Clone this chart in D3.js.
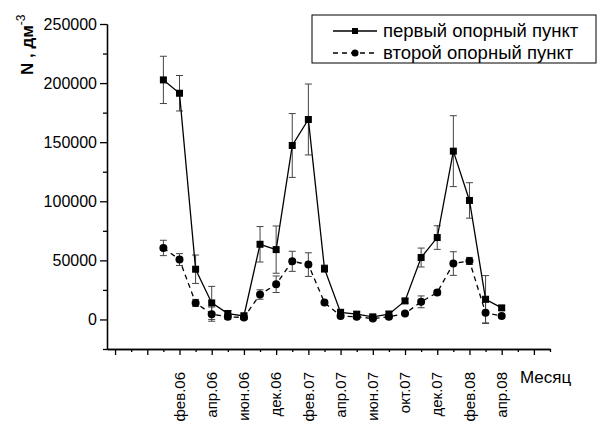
<!DOCTYPE html>
<html>
<head>
<meta charset="utf-8">
<script src="https://cdn.jsdelivr.net/npm/d3@7"></script>
<style>
  body { margin: 0; background: #fff; }
  text { font-family: "Liberation Sans", Arial, sans-serif; fill: #000; }
</style>
</head>
<body>
<script>
// month positions along the x axis (tick index)
var xIdx = [3, 4, 5, 6, 7, 8, 9, 10, 11, 12, 13, 14, 15, 16, 17, 18, 19, 20, 21, 22, 23, 24]

// первый опорный пункт
var first = [202700, 191400, 42500, 14000, 5000, 3000, 63600, 59100, 147200, 169200, 43000,
             6000, 4500, 2200, 4500, 15700, 52400, 69300, 142400, 100700, 17100, 9800]
var firstErr = [20000, 15000, 12000, 14000, 2500, 2500, 15000, 20000, 27000, 30000, 3000,
                2500, 2000, 2000, 2500, 2000, 8000, 10000, 30000, 15000, 20000, 2000]

// второй опорный пункт
var second = [60500, 50700, 14000, 4500, 2200, 1700, 21100, 29800, 49200, 46400, 14300,
              3000, 2200, 800, 2200, 5000, 14900, 22800, 47300, 49500, 5600, 3000]
var secondErr = [6500, 5000, 3000, 6000, 2000, 1500, 4000, 7000, 8500, 10000, 1500,
                 1500, 1500, 1000, 1500, 1000, 5000, 2000, 10000, 3000, 9000, 1500]

// labelled ticks
var labelIdx = [4, 6, 8, 10, 12, 14, 16, 18, 20, 22, 24]
var labelText = ["фев.06", "апр.06", "июн.06", "дек.06", "фев.07", "апр.07",
                 "июн.07", "окт.07", "дек.07", "фев.08", "апр.08"]
var majorX = [0, 2, 4, 6, 8, 10, 12, 14, 16, 18, 20, 22, 24, 26]
var minorX = [1, 3, 5, 7, 9, 11, 13, 15, 17, 19, 21, 23, 25, 27]
var majorY = [0, 50000, 100000, 150000, 200000, 250000]
var minorY = [-25000, 25000, 75000, 125000, 175000, 225000]

var svg = d3.select("body").append("svg")
    .attr("width", 598)
    .attr("height", 421)

var x = d3.scaleLinear().domain([-0.5, 27]).range([107, 550])
var y = d3.scaleLinear().domain([-25000, 250000]).range([349, 24])

// y axis
svg.append("g")
    .attr("transform", "translate(107,0)")
    .call(d3.axisLeft(y).tickValues(majorY).tickSize(7).tickSizeOuter(0).tickPadding(3).tickFormat(d3.format("d")))
    .call(g => g.selectAll("text").style("font-size", "16px"))
svg.append("g")
    .attr("transform", "translate(107,0)")
    .call(d3.axisLeft(y).tickValues(minorY).tickSize(4).tickSizeOuter(0).tickFormat(""))

// x axis
svg.append("g")
    .attr("transform", "translate(0,349)")
    .call(d3.axisBottom(x).tickValues(majorX).tickSize(6).tickSizeOuter(0).tickFormat(""))
svg.append("g")
    .attr("transform", "translate(0,349)")
    .call(d3.axisBottom(x).tickValues(minorX).tickSize(3).tickSizeOuter(0).tickFormat(""))

svg.selectAll(".domain, .tick line").attr("stroke", "#000").attr("stroke-width", 1.3)

// month labels
svg.selectAll(".mlabel")
    .data(labelIdx)
    .enter().append("text")
    .attr("class", "mlabel")
    .attr("transform", d => "translate(" + x(d) + ",372) rotate(-90)")
    .attr("text-anchor", "end")
    .attr("dy", "0.35em")
    .style("font-size", "15px")
    .text((d, i) => labelText[i])

svg.append("text")
    .attr("x", 520).attr("y", 383)
    .style("font-size", "17px")
    .text("Месяц")

// y title
var yt = svg.append("text")
    .attr("transform", "translate(33,75) rotate(-90)")
    .style("font-size", "17px")
    .style("font-weight", "bold")
yt.append("tspan").text("N , дм")
yt.append("tspan").attr("dy", -8).style("font-size", "12px").style("font-weight", "normal").text("-3")

// error bars
function errorBars(vals, errs) {
    var g = svg.append("g").attr("stroke", "#444").attr("stroke-width", 1)
    xIdx.forEach(function(k, i) {
        var cx = x(k), hi = y(vals[i] + errs[i]), lo = y(vals[i] - errs[i])
        g.append("line").attr("x1", cx).attr("x2", cx).attr("y1", hi).attr("y2", lo)
        g.append("line").attr("x1", cx - 3.5).attr("x2", cx + 3.5).attr("y1", hi).attr("y2", hi)
        g.append("line").attr("x1", cx - 3.5).attr("x2", cx + 3.5).attr("y1", lo).attr("y2", lo)
    })
}
errorBars(first, firstErr)
errorBars(second, secondErr)

var line1 = d3.line().x((d, i) => x(xIdx[i])).y(d => y(d))

svg.append("path")
    .datum(second)
    .attr("d", line1)
    .attr("fill", "none")
    .attr("stroke", "#000")
    .attr("stroke-width", 1.3)
    .attr("stroke-dasharray", "5,4")

svg.append("path")
    .datum(first)
    .attr("d", line1)
    .attr("fill", "none")
    .attr("stroke", "#000")
    .attr("stroke-width", 1.3)

svg.selectAll(".sq")
    .data(first)
    .enter().append("rect")
    .attr("x", (d, i) => x(xIdx[i]) - 3.5)
    .attr("y", d => y(d) - 3.5)
    .attr("width", 7).attr("height", 7)
    .attr("fill", "#000")

svg.selectAll(".ci")
    .data(second)
    .enter().append("circle")
    .attr("cx", (d, i) => x(xIdx[i]))
    .attr("cy", d => y(d))
    .attr("r", 4)
    .attr("fill", "#000")

// legend
var lg = svg.append("g")
lg.append("rect")
    .attr("x", 312).attr("y", 15).attr("width", 284).attr("height", 48)
    .attr("fill", "#fff").attr("stroke", "#000").attr("stroke-width", 1)
lg.append("line").attr("x1", 333).attr("x2", 377).attr("y1", 31).attr("y2", 31)
    .attr("stroke", "#000").attr("stroke-width", 1.3)
lg.append("rect").attr("x", 352).attr("y", 28).attr("width", 6).attr("height", 6).attr("fill", "#000")
lg.append("line").attr("x1", 333).attr("x2", 377).attr("y1", 53).attr("y2", 53)
    .attr("stroke", "#000").attr("stroke-width", 1.3).attr("stroke-dasharray", "5,4")
lg.append("circle").attr("cx", 355).attr("cy", 53).attr("r", 3.5).attr("fill", "#000")
lg.append("text").attr("x", 383).attr("y", 31).attr("dy", "0.35em")
    .style("font-size", "18.5px").text("первый опорный пункт")
lg.append("text").attr("x", 383).attr("y", 53).attr("dy", "0.35em")
    .style("font-size", "18.5px").text("второй опорный пункт")
</script>
</body>
</html>
